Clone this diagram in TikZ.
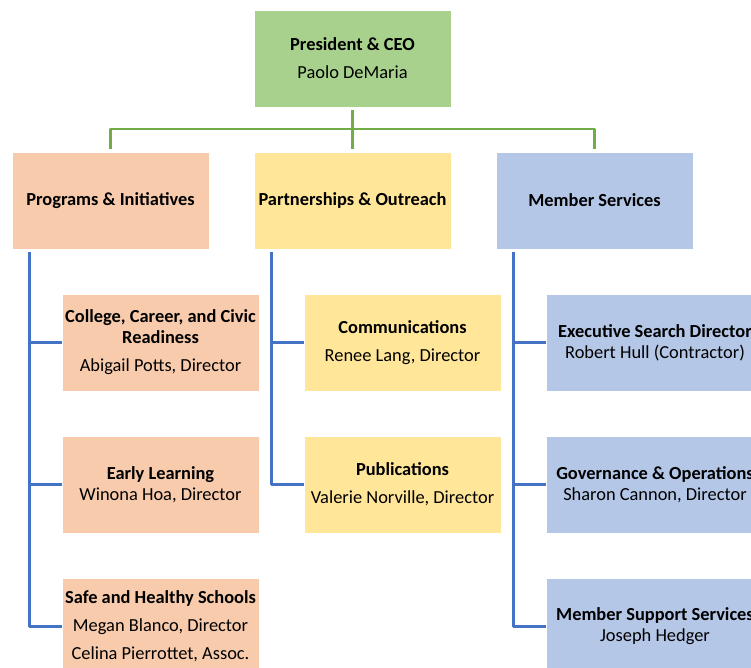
\documentclass[tikz,border=0pt]{standalone}
\usepackage{fontspec}
\setmainfont{Carlito}
\definecolor{ceogreen}{HTML}{A9D18E}
\definecolor{progorange}{HTML}{F8CBAD}
\definecolor{partyellow}{HTML}{FFE699}
\definecolor{memblue}{HTML}{B4C7E7}
\definecolor{linegreen}{HTML}{70AD47}
\definecolor{lineblue}{HTML}{4472C4}
\begin{document}
\begin{tikzpicture}[x=1pt,y=-1pt,line join=round,font=\fontsize{18.4}{21}\selectfont,
    unit/.style={minimum width=197pt,minimum height=97pt,inner sep=0pt,align=center,draw=white,line width=0.8pt},
    gline/.style={draw=linegreen,line width=2.5pt,shorten <=3pt,shorten >=3pt},
    bline/.style={draw=lineblue,line width=2.5pt}]
\clip (0,0) rectangle (751,667);
% top
\node[unit,fill=ceogreen] (ceo) at (352.5,58.5) {\textbf{President \& CEO}\\[7pt]Paolo DeMaria};
% departments
\node[unit,fill=progorange] (pi) at (110.5,200.5) {\textbf{Programs \& Initiatives}};
\node[unit,fill=partyellow] (po) at (352.5,200.5) {\textbf{Partnerships \& Outreach}};
\node[unit,fill=memblue] (ms) at (594.5,200.5) {\textbf{Member Services}};
% programs
\node[unit,fill=progorange] (ccr) at (160.5,342.5) {\textbf{College, Career, and Civic}\\\textbf{Readiness}\\[7pt]Abigail Potts, Director};
\node[unit,fill=progorange] (el) at (160.5,484.5) {\textbf{Early Learning}\\Winona Hoa, Director};
\node[unit,fill=progorange] (shs) at (160.5,626.5) {\textbf{Safe and Healthy Schools}\\[7pt]Megan Blanco, Director\\[7pt]Celina Pierrottet, Assoc.};
% partnerships
\node[unit,fill=partyellow] (com) at (402.5,342.5) {\textbf{Communications}\\[7pt]Renee Lang, Director};
\node[unit,fill=partyellow] (pub) at (402.5,484.5) {\textbf{Publications}\\[7pt]Valerie Norville, Director};
% member services
\node[unit,fill=memblue,minimum width=218pt] (esd) at (655,342.5) {\textbf{Executive Search Director}\\Robert Hull (Contractor)};
\node[unit,fill=memblue,minimum width=218pt] (gov) at (655,484.5) {\textbf{Governance \& Operations}\\Sharon Cannon, Director};
\node[unit,fill=memblue,minimum width=218pt] (mss) at (655,626.5) {\textbf{Member Support Services}\\Joseph Hedger};
% green connectors
\coordinate (bus) at (352.5,129);
\draw[gline] (ceo) -- (ceo |- po.north);
\draw[gline] (pi.north) |- (bus) -| (ms.north);
% blue connectors
\coordinate (pitrunk) at ([xshift=18pt,yshift=-3pt]pi.south west);
\coordinate (potrunk) at ([xshift=18pt,yshift=-3pt]po.south west);
\coordinate (mstrunk) at ([xshift=18pt,yshift=-3pt]ms.south west);
\draw[bline] (pitrunk) |- (shs.west);
\draw[bline] (pitrunk |- ccr.west) -- (ccr.west);
\draw[bline] (pitrunk |- el.west) -- (el.west);
\draw[bline] (potrunk) |- (pub.west);
\draw[bline] (potrunk |- com.west) -- (com.west);
\draw[bline] (mstrunk) |- (mss.west);
\draw[bline] (mstrunk |- esd.west) -- (esd.west);
\draw[bline] (mstrunk |- gov.west) -- (gov.west);
\end{tikzpicture}
\end{document}
